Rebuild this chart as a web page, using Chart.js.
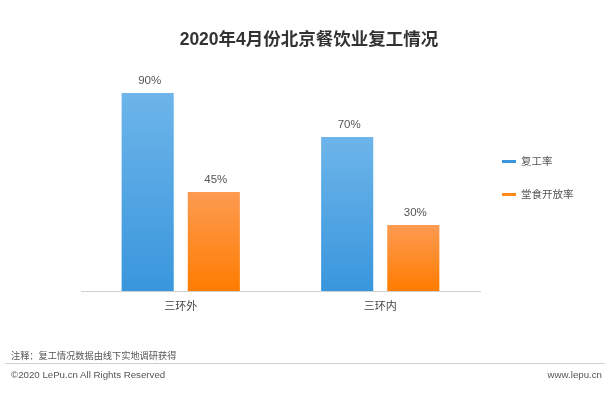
<!DOCTYPE html>
<html>
<head>
<meta charset="utf-8">
<script src="https://cdn.jsdelivr.net/npm/chart.js@4"></script>
<style>
  body { margin: 0; background: #fff; }
  #wrap {
    position: relative;
    width: 616px;
    height: 395px;
    overflow: hidden;
    font-family: "Liberation Sans", "Noto Sans CJK SC", sans-serif;
  }
  #chart { position: absolute; left: 0; top: 0; }
  .title {
    position: absolute; left: 0; top: 25px; width: 618px;
    text-align: center; font-size: 17.5px; font-weight: bold; color: #333;
    font-family: "Liberation Sans", "Noto Sans CJK SC", sans-serif;
  }
  .legend { position: absolute; left: 502px; font-size: 10.5px; color: #555; }
  .legend span {
    display: inline-block; width: 14px; height: 3px;
    vertical-align: middle; margin-right: 5px; margin-top: -2px;
  }
  .note { position: absolute; left: 11px; top: 348px; font-size: 9.2px; color: #555; }
  .rule { position: absolute; left: 5px; width: 600px; top: 363px; height: 1px; background: #cfcfcf; }
  .foot { position: absolute; top: 369px; font-size: 9.7px; color: #555; }
</style>
</head>
<body>
<div id="wrap">
  <canvas id="chart" width="616" height="395"></canvas>
  <div class="title">2020年4月份北京餐饮业复工情况</div>
  <div class="legend" style="top:153px"><span style="background:#3a96dd"></span>复工率</div>
  <div class="legend" style="top:186px"><span style="background:#ff8a1a"></span>堂食开放率</div>
  <div class="note">注释：复工情况数据由线下实地调研获得</div>
  <div class="rule"></div>
  <div class="foot" style="left:11px">©2020 LePu.cn All Rights Reserved</div>
  <div class="foot" style="right:14px">www.lepu.cn</div>
</div>
<script>
var categories = ["三环外", "三环内"];
var resumeRate = [90, 70];
var dineInRate = [45, 30];
var seriesNames = ["复工率", "堂食开放率"];

// vertical gradient per bar, lighter at the top
function barGradient(top, bottom) {
  return function (context) {
    var chart = context.chart;
    if (!chart.chartArea || context.parsed == null) return bottom;
    var y = chart.scales.y;
    var g = chart.ctx.createLinearGradient(0, y.getPixelForValue(context.parsed.y), 0, y.getPixelForValue(0));
    g.addColorStop(0, top);
    g.addColorStop(1, bottom);
    return g;
  };
}

var valueLabels = {
  id: "valueLabels",
  afterDatasetsDraw: function (chart) {
    var ctx = chart.ctx;
    ctx.save();
    ctx.font = "11.5px 'Liberation Sans', 'Noto Sans CJK SC', sans-serif";
    ctx.fillStyle = "#555";
    ctx.textAlign = "center";
    ctx.textBaseline = "middle";
    chart.data.datasets.forEach(function (ds, i) {
      chart.getDatasetMeta(i).data.forEach(function (bar, j) {
        ctx.fillText(ds.data[j] + "%", bar.x + 2, bar.y - 12);
      });
    });
    ctx.restore();
  }
};

var ctx = document.getElementById("chart").getContext("2d");
var myChart = new Chart(ctx, {
  type: "bar",
  data: {
    labels: categories,
    datasets: [
      {
        label: seriesNames[0],
        data: resumeRate,
        backgroundColor: barGradient("#6db5ea", "#3996dc"),
      },
      {
        label: seriesNames[1],
        data: dineInRate,
        backgroundColor: barGradient("#fd9b52", "#ff7c00"),
      },
    ],
  },
  options: {
    responsive: false,
    animation: false,
    events: [],
    categoryPercentage: 0.663,
    barPercentage: 0.788,
    layout: { padding: { left: 81, right: 136, top: 71, bottom: 74 } },
    plugins: {
      legend: { display: false },
      tooltip: { enabled: false },
    },
    scales: {
      x: {
        afterFit: function (scale) { scale.height = 30; },
        grid: { display: true, drawOnChartArea: false, drawTicks: false },
        border: { display: true, color: "#cfcfcf", width: 1 },
        ticks: {
          padding: 9,
          color: "#444",
          font: { size: 11, family: "'Liberation Sans', 'Noto Sans CJK SC', sans-serif" },
        },
      },
      y: {
        display: false,
        min: 0,
        max: 100,
      },
    },
  },
  plugins: [valueLabels],
});
</script>
</body>
</html>
